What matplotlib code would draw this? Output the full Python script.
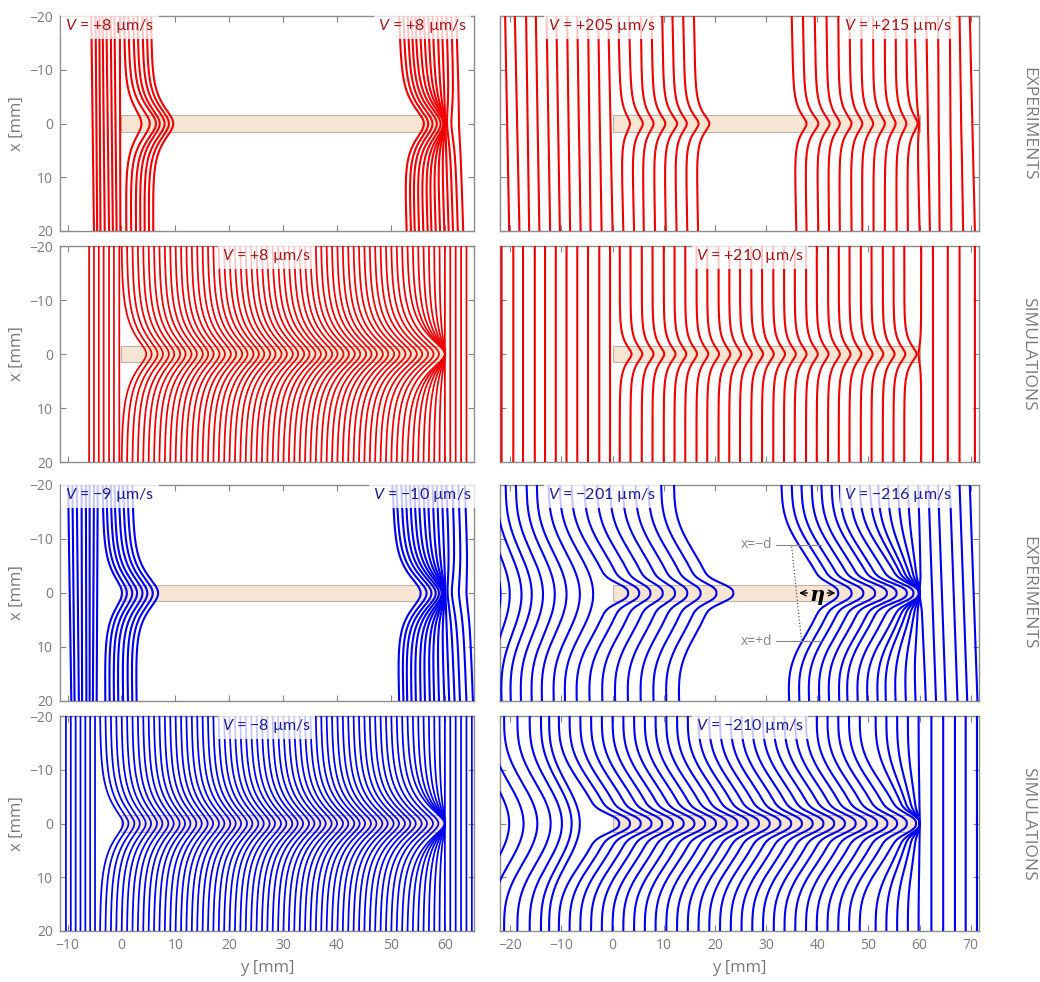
import numpy as np
import matplotlib.pyplot as plt
from matplotlib.patches import Rectangle

plt.rcParams['font.family'] = ['Open Sans', 'DejaVu Sans']
plt.rcParams['mathtext.fontset'] = 'custom'
plt.rcParams['mathtext.it'] = 'Lato:italic'
plt.rcParams['mathtext.rm'] = 'Lato'

RED = '#f00000'
BLUE = '#0000f0'
GRAY = '#858585'

# front positions in mm: far field at x=-20 (top) / x=+20 (bot), broad "shoulder", tip at x=0
# --- experiments, V > 0 ---
EXP_P_L_TOP = [-5.6, -4.8, -4.1, -3.5, -2.8, -2.0, -1.3, -0.3,
               0.5, 1.3, 2.2, 3.0, 3.9, 4.7, 5.5,
               51.5, 52.3, 53.1, 53.8, 54.5, 55.3, 56.1, 56.9, 57.7, 58.6, 59.4, 60.3, 61.2, 62.1]
EXP_P_L_BOT = [-5.1, -4.5, -3.9, -3.1, -2.3, -1.6, -0.9, -0.2,
               0.9, 1.8, 2.7, 3.5, 4.3, 5.1, 5.9,
               52.9, 53.7, 54.4, 55.2, 56.0, 56.8, 57.5, 58.3, 59.1, 59.9, 60.7, 61.5, 62.4, 63.4]
EXP_P_L_TIP = [-5.35, -4.65, -4.0, -3.3, -2.55, -1.8, -1.1, -0.25,
               3.7, 5.25, 6.4, 7.1, 8.0, 8.8, 9.6,
               56.1, 56.9, 57.7, 58.5, 59.2, 59.7, 60.0, 60.0, 60.0, 60.0, 60.1, 60.4, 61.2, 62.6]

EXP_P_R_TOP = [-21.0, -19.1, -16.9, -15.0, -12.9, -11.0, -8.9, -6.9, -4.8, -2.8, -0.85,
               1.1, 3.2, 5.5, 7.6, 9.7, 11.7, 13.8, 15.9,
               35.0, 37.2, 39.5, 41.8, 44.1, 46.3, 48.6, 50.9, 53.2, 55.3, 57.4,
               59.0, 61.3, 63.6, 65.9, 67.8, 69.8]
EXP_P_R_BOT = [-20.2, -18.2, -16.3, -14.3, -12.2, -10.3, -8.3, -6.25, -4.3, -2.15, 0.0,
               2.1, 4.2, 6.1, 8.3, 10.4, 12.5, 14.6, 16.7,
               35.9, 37.9, 40.2, 42.3, 44.4, 46.7, 48.8, 51.0, 53.2, 55.5, 57.7,
               60.0, 62.0, 63.9, 66.2, 68.5, 70.8]
EXP_P_R_TIP = [-20.6, -18.65, -16.6, -14.65, -12.55, -10.65, -8.6, -6.6, -4.55, -2.5, -0.4,
               3.4, 5.9, 8.0, 10.3, 12.6, 14.5, 16.8, 18.9,
               37.9, 40.2, 42.4, 44.4, 46.7, 48.8, 50.9, 53.2, 55.3, 57.4, 59.6,
               59.9, 61.6, 63.7, 66.0, 68.1, 70.3]

# --- simulations, V > 0 ---
SIM_P_L_FAR = [-6.0, -5.1, -4.2, -3.3, -2.3, -1.4, -0.4,
               0, 1, 2, 3, 4, 5, 6, 7, 8, 9, 10, 11, 12, 13, 14, 15, 16, 17, 18, 19, 20,
               21, 22, 23, 24, 25, 26, 27, 28, 29, 30, 31, 32, 33, 34, 35, 36, 37, 38, 39, 40,
               41, 42, 43, 44, 45, 46, 47, 48, 49, 50, 51, 52, 53, 54, 55, 56, 57, 58, 59, 60,
               61, 62, 63, 64]
SIM_P_L_TIP = [-6.0, -5.1, -4.2, -3.3, -2.3, -1.4, -0.4,
               4.6, 5.6, 6.7, 7.7, 8.8, 9.8, 10.9, 11.9, 13.0, 14.0, 15.1, 16.1, 17.1, 18.2,
               19.2, 20.3, 21.3, 22.4, 23.4, 24.5, 25.5, 26.5, 27.6, 28.6, 29.7, 30.7, 31.8,
               32.8, 33.9, 34.9, 36.0, 37.0, 38.0, 39.1, 40.1, 41.2, 42.2, 43.3, 44.3, 45.4,
               46.4, 47.4, 48.5, 49.5, 50.6, 51.6, 52.7, 53.7, 54.8, 55.8, 56.9, 57.9, 58.9,
               60.0, 60.0, 60.0, 60.0, 60.0, 60.0, 60.0, 60.0,
               61, 62, 63, 64]

SIM_P_R_FAR = [-21.7, -19.4, -17.5, -15.2, -13.2, -11.1, -9.0, -6.9, -4.8, -2.6, -0.5,
               1.4, 3.5, 5.7, 7.8, 10.0, 12.1, 14.2, 16.4, 18.5, 20.7, 22.8, 24.9, 27.1, 29.2,
               31.4, 33.5, 35.6, 37.8, 39.9, 42.1, 44.2, 46.3, 48.5, 50.6, 52.8, 54.9, 57.0,
               60.3, 62.6, 65.5, 67.8, 70.8]
SIM_P_R_TIP = [-21.7, -19.4, -17.5, -15.2, -13.2, -11.1, -9.0, -6.9, -4.8, -2.6, -0.5,
               3.7, 5.8, 8.0, 10.1, 12.3, 14.4, 16.5, 18.7, 20.8, 23.0, 25.1, 27.2, 29.4, 31.5,
               33.7, 35.8, 37.9, 40.1, 42.2, 44.4, 46.5, 48.6, 50.8, 52.9, 55.1, 57.2, 59.4,
               59.8, 62.6, 65.5, 67.8, 70.8]

# --- experiments, V < 0 ---
EXP_N_L_TOP = [-9.9, -9.1, -8.3, -7.4, -6.6, -5.9, -5.1, -4.4,
               -3.5, -2.8, -2.0, -1.3, -0.5, 0.3, 1.1, 2.0,
               50.3, 51.0, 51.9, 52.7, 53.5, 54.3, 55.1, 56.0, 56.8, 57.7, 58.5, 59.4, 60.3, 61.4, 62.5, 63.7]
EXP_N_L_BOT = [-9.3, -8.7, -7.9, -7.3, -6.5, -5.9, -5.3, -4.6,
               -3.0, -2.2, -1.4, -0.6, 0.3, 1.2, 2.0, 2.8,
               51.5, 52.3, 53.0, 53.8, 54.6, 55.5, 56.3, 57.2, 58.0, 58.9, 59.9, 60.8, 61.8, 62.8, 64.0, 65.2]
EXP_N_L_TIP = [-9.6, -8.9, -8.1, -7.35, -6.55, -5.9, -5.2, -4.5,
               0.1, 1.0, 2.0, 2.9, 3.9, 4.8, 5.8, 6.8,
               55.5, 56.6, 57.5, 58.3, 58.9, 59.4, 59.7, 59.9, 60.0, 60.0, 60.0, 60.1, 60.5, 61.3, 62.6, 64.0]

EXP_N_R_TOP = [-26.4, -24.8, -22.7, -20.9, -18.9, -16.8, -14.8, -12.5, -10.3,
               -8.0, -5.5, -3.0, -0.5, 2.0, 4.5, 7.0, 9.5, 12.0,
               33.0, 35.0, 36.9, 38.9, 40.8, 42.8, 44.4, 46.4, 48.3,
               50.3, 51.9, 53.8, 55.8, 57.7, 59.7, 61.7, 63.6, 65.9, 67.8, 69.8]
EXP_N_R_BOT = [-25.4, -23.8, -21.7, -19.9, -17.9, -15.8, -13.8, -11.5, -9.3,
               -7.0, -4.5, -2.0, 0.5, 3.0, 5.5, 8.0, 10.5, 13.0,
               34.5, 36.5, 38.4, 40.4, 42.3, 44.3, 45.9, 47.9, 49.8,
               51.8, 53.4, 55.3, 57.3, 59.2, 61.2, 63.2, 65.1, 67.4, 69.3, 71.3]
EXP_N_R_SHOULDER = [-21.9, -20.1, -17.8, -15.8, -13.6, -11.3, -9.0, -6.4, -3.8,
                    -1.0, 1.5, 4.0, 6.5, 9.0, 11.5, 14.0, 16.5, 19.0,
                    40.75, 42.75, 44.65, 46.65, 48.55, 50.55, 52.15, 54.15, 56.05,
                    57.0, 57.8, 58.5, 59.1, 59.6, 60.3, 62.45, 64.35, 66.65, 68.55, 70.55]
EXP_N_R_TIP = [-21.9, -20.1, -17.8, -15.8, -13.6, -11.3, -9.0, -6.4, -3.8,
               3.05, 5.2, 7.4, 9.8, 12.2, 14.6, 17.2, 20.3, 23.6,
               44.1, 46.7, 49.0, 51.3, 53.6, 55.5, 57.5, 58.8, 59.8,
               60.0, 60.0, 60.0, 60.0, 60.0, 60.0, 62.45, 64.35, 66.65, 68.55, 70.55]

# --- simulations, V < 0 ---
SIM_N_L_FAR = [-10.3, -9.4, -8.5, -7.6, -6.7, -5.8, -4.9,
               -4, -3, -2, -1, 0, 1, 2, 3, 4, 5, 6, 7, 8, 9, 10, 11, 12, 13, 14, 15, 16,
               17, 18, 19, 20, 21, 22, 23, 24, 25, 26, 27, 28, 29, 30, 31, 32, 33, 34, 35, 36,
               37, 38, 39, 40, 41, 42, 43, 44, 45, 46, 47, 48, 49, 50, 51, 52, 53, 54, 55, 56,
               57, 58, 59, 60, 61, 62, 63, 64, 65]
SIM_N_L_TIP = [-10.3, -9.4, -8.5, -7.6, -6.7, -5.8, -4.9,
               0.3, 1.3, 2.4, 3.4, 4.5, 5.5, 6.6, 7.6, 8.7, 9.7, 10.8, 11.8, 12.8, 13.9, 14.9,
               16.0, 17.0, 18.1, 19.1, 20.2, 21.2, 22.2, 23.3, 24.3, 25.4, 26.4, 27.5, 28.5,
               29.6, 30.6, 31.7, 32.7, 33.7, 34.8, 35.8, 36.9, 37.9, 39.0, 40.0, 41.1, 42.1,
               43.2, 44.2, 45.2, 46.3, 47.3, 48.4, 49.4, 50.5, 51.5, 52.6, 53.6, 54.6, 55.7,
               56.7, 57.8, 58.8, 59.9,
               60.0, 60.0, 60.0, 60.0, 60.0, 60.0, 60.0,
               61, 62, 63, 64, 65]

SIM_N_R_FAR = [-29.0, -26.4, -23.8, -21.2, -18.6, -16.2, -14.0, -12.4,
               -10.5, -8.4, -6.3, -4.2, -2.1, 0.0, 2.1, 4.2, 6.3, 8.4, 10.5, 12.6, 14.7, 16.8,
               18.9, 21.0, 23.1, 25.2, 27.3, 29.4, 31.5, 33.6, 35.7, 37.8, 39.9, 42.0, 44.1,
               46.2, 48.3,
               51.4, 53.5, 55.6, 57.7, 59.8, 62.3, 64.6, 66.9, 69.0, 71.2]
SIM_N_R_SHOULDER = [-23.0, -20.2, -17.4, -14.7, -12.1, -9.9, -8.0, -6.4,
                    -3.0, -0.9, 1.2, 3.3, 5.4, 7.5, 9.6, 11.7, 13.8, 15.9, 18.0, 20.1, 22.2,
                    24.3, 26.4, 28.5, 30.6, 32.7, 34.8, 36.9, 39.0, 41.1, 43.2, 45.3, 47.4,
                    49.5, 51.6, 53.7, 55.8,
                    57.0, 57.8, 58.6, 59.3, 60.0, 62.3, 64.6, 66.9, 69.0, 71.2]
SIM_N_R_TIP = [-23.0, -20.2, -17.4, -14.7, -12.1, -9.9, -8.0, -6.4,
               1.3, 3.4, 5.5, 7.6, 9.7, 11.8, 13.9, 16.0, 18.1, 20.2, 22.3, 24.4, 26.5, 28.6,
               30.7, 32.8, 34.9, 37.0, 39.1, 41.2, 43.3, 45.4, 47.5, 49.6, 51.7, 53.7, 55.6,
               57.5, 59.3,
               60.0, 60.0, 60.0, 60.0, 60.0, 62.3, 64.6, 66.9, 69.0, 71.2]

LEFT_TICKS = [-10, 0, 10, 20, 30, 40, 50, 60]
RIGHT_TICKS = [-20, -10, 0, 10, 20, 30, 40, 50, 60, 70]
X_TICKS = [-20, -10, 0, 10, 20]

XS = np.linspace(-20, 20, 1601)


def broad(u, q):
    # wide bow across the cell, meets the side walls at right angles
    return ((1 + np.cos(np.pi * u / 20)) / 2) ** q


def bump(u, w, t, p):
    return np.exp(-((np.sqrt(u ** 2 + t ** 2) - t) / w) ** p)


def draw_fronts(ax, top, tip, color, bot=None, shoulder=None, w=3.0, t=2.0, p=1.0, q=1.6, lw=1.5):
    if bot is None:
        bot = top
    u = np.abs(XS)
    for i in range(len(top)):
        a = top[i] + (bot[i] - top[i]) * (XS + 20) / 40
        amid = 0.5 * (top[i] + bot[i])
        s = amid if shoulder is None else shoulder[i]
        y = a + (s - amid) * broad(u, q) + (tip[i] - s) * bump(u, w, t, p)
        ax.plot(y, XS, color=color, lw=lw, zorder=3)


def vlabel(ax, yc, txt, color):
    ax.text(yc, -18.1, txt, color=color, ha='center', va='center', fontsize=11.5,
            family=['Lato', 'DejaVu Sans'], zorder=6,
            bbox=dict(boxstyle='square,pad=0.25', fc='white', ec='none', alpha=0.78))


def style(ax, left, bottom, xlim, ticks):
    ax.set_xlim(*xlim)
    ax.set_ylim(20, -20)
    ax.add_patch(Rectangle((0, -1.5), 60, 3, fc='#f7e5d3', ec='#bdb3aa', lw=0.8, zorder=1))
    ax.set_xticks(ticks)
    ax.set_yticks(X_TICKS)
    ax.tick_params(direction='in', length=4, width=0.8, color=GRAY, labelcolor='#7a7a7a',
                   top=True, right=True, labelsize=10, pad=5)
    for sp in ax.spines.values():
        sp.set_color('#8c8c8c')
        sp.set_linewidth(1.0)
    if not left:
        ax.set_yticklabels([])
    else:
        ax.set_ylabel('x [mm]', color='#7a7a7a', fontsize=12, labelpad=3)
    if not bottom:
        ax.set_xticklabels([])
    else:
        ax.set_xlabel('y [mm]', color='#7a7a7a', fontsize=12, labelpad=5)


fig = plt.figure(figsize=(10.4, 9.82), dpi=100)
W, H = 1040.0, 982.0
rows = [(16, 231), (246, 462), (485, 701), (716, 931)]
cols = [(60, 474), (500, 979)]
axes = []
for r0, r1 in rows:
    line = []
    for c0, c1 in cols:
        line.append(fig.add_axes([c0 / W, 1 - r1 / H, (c1 - c0) / W, (r1 - r0) / H]))
    axes.append(line)

LX = (-11.4, 65.4)
RX = (-22.0, 71.6)

# row 1: experiments, V > 0
ax = axes[0][0]
draw_fronts(ax, EXP_P_L_TOP, EXP_P_L_TIP, RED, bot=EXP_P_L_BOT, w=2.8, t=2.5)
style(ax, True, False, LX, LEFT_TICKS)
vlabel(ax, -2.1, '$V$ = +8 µm/s', '#a01818')
vlabel(ax, 55.9, '$V$ = +8 µm/s', '#a01818')

ax = axes[0][1]
draw_fronts(ax, EXP_P_R_TOP, EXP_P_R_TIP, RED, bot=EXP_P_R_BOT, w=2.1, t=1.0)
style(ax, False, False, RX, RIGHT_TICKS)
vlabel(ax, -2.1, '$V$ = +205 µm/s', '#a01818')
vlabel(ax, 55.8, '$V$ = +215 µm/s', '#a01818')

# row 2: simulations, V > 0
ax = axes[1][0]
draw_fronts(ax, SIM_P_L_FAR, SIM_P_L_TIP, RED, w=4.0, t=1.5, lw=1.25)
style(ax, True, False, LX, LEFT_TICKS)
vlabel(ax, 26.9, '$V$ = +8 µm/s', '#a01818')

ax = axes[1][1]
draw_fronts(ax, SIM_P_R_FAR, SIM_P_R_TIP, RED, w=1.9, t=0.9)
style(ax, False, False, RX, RIGHT_TICKS)
vlabel(ax, 26.9, '$V$ = +210 µm/s', '#a01818')

# row 3: experiments, V < 0
ax = axes[2][0]
draw_fronts(ax, EXP_N_L_TOP, EXP_N_L_TIP, BLUE, bot=EXP_N_L_BOT, w=3.0, t=2.5)
style(ax, True, False, LX, LEFT_TICKS)
vlabel(ax, -2.1, '$V$ = −9 µm/s', '#1c1c90')
vlabel(ax, 55.9, '$V$ = −10 µm/s', '#1c1c90')

ax = axes[2][1]
draw_fronts(ax, EXP_N_R_TOP, EXP_N_R_TIP, BLUE, bot=EXP_N_R_BOT, shoulder=EXP_N_R_SHOULDER,
            w=2.2, t=0.0, p=2.5, q=1.6)
style(ax, False, False, RX, RIGHT_TICKS)
vlabel(ax, -2.1, '$V$ = −201 µm/s', '#1c1c90')
vlabel(ax, 55.8, '$V$ = −216 µm/s', '#1c1c90')
# eta annotation
ax.plot([35.0, 36.9], [-8.6, 8.7], color='#333333', lw=0.8, ls=(0, (1, 2)), zorder=4)
ax.plot([31.9, 40.8], [-8.9, -8.9], color=GRAY, lw=0.8, zorder=4)
ax.plot([31.9, 40.8], [8.9, 8.9], color=GRAY, lw=0.8, zorder=4)
ax.text(31.2, -8.9, 'x=−d', color=GRAY, ha='right', va='center', fontsize=10, zorder=5)
ax.text(31.2, 8.9, 'x=+d', color=GRAY, ha='right', va='center', fontsize=10, zorder=5)
ax.annotate('', xy=(35.9, 0), xytext=(38.6, 0),
            arrowprops=dict(arrowstyle='->', color='black', lw=1.0), zorder=5)
ax.annotate('', xy=(44.1, 0), xytext=(41.4, 0),
            arrowprops=dict(arrowstyle='->', color='black', lw=1.0), zorder=5)
ax.text(40.0, 0.3, 'η', ha='center', va='center', fontsize=15, fontweight='bold',
        fontstyle='italic', family=['DejaVu Serif'], zorder=5)

# row 4: simulations, V < 0
ax = axes[3][0]
draw_fronts(ax, SIM_N_L_FAR, SIM_N_L_TIP, BLUE, w=4.0, t=1.5, lw=1.25)
style(ax, True, True, LX, LEFT_TICKS)
vlabel(ax, 26.9, '$V$ = −8 µm/s', '#1c1c90')

ax = axes[3][1]
draw_fronts(ax, SIM_N_R_FAR, SIM_N_R_TIP, BLUE, shoulder=SIM_N_R_SHOULDER,
            w=2.2, t=0.0, p=2.5, q=1.6)
style(ax, False, True, RX, RIGHT_TICKS)
vlabel(ax, 26.9, '$V$ = −210 µm/s', '#1c1c90')

for (r0, r1), name in zip(rows, ['EXPERIMENTS', 'SIMULATIONS', 'EXPERIMENTS', 'SIMULATIONS']):
    fig.text(1028 / W, 1 - 0.5 * (r0 + r1) / H, name, rotation=270, ha='center', va='center',
             color='#7a7a7a', fontsize=12.5)

fig.savefig('out.png', dpi=100)
